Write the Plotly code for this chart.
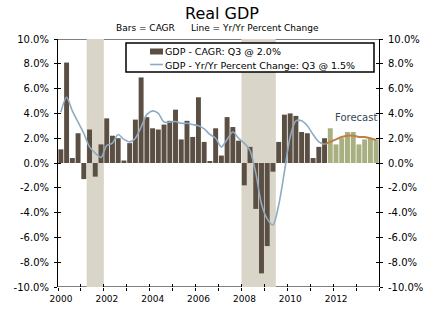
import numpy as np
import plotly.graph_objects as go

# ---- data -------------------------------------------------------------
years = list(range(2000, 2015))
year_labels = [str(y) if (y % 2 == 0 and y < 2014) else "" for y in years]

y_ticks = list(range(-10, 11, 2))
y_labels = [f"{v:.1f}%" for v in y_ticks]

# GDP, compound annual growth rate, 2000Q1 .. 2011Q3
actual_cagr = [
    1.1, 8.1, 0.4, 2.4,
    -1.3, 2.7, -1.1, 1.5,
    3.6, 2.2, 2.0, 0.2,
    1.6, 3.5, 6.9, 3.7,
    2.8, 2.7, 3.1, 3.4,
    4.3, 1.9, 3.4, 2.1,
    5.3, 1.7, 0.1, 2.8,
    0.6, 3.7, 2.9, 1.8,
    -1.8, 1.3, -3.7, -8.9,
    -6.7, -0.7, 1.7, 3.9,
    4.0, 3.8, 2.5, 2.4,
    0.4, 1.3, 2.0,
]
# forecast CAGR, 2011Q4 .. 2013Q4
forecast_cagr = [2.8, 1.5, 2.0, 2.5, 2.5, 1.5, 1.9, 2.0, 1.9]

# GDP, year-over-year percent change, 2000Q1 .. 2011Q3
actual_yoy = [
    4.1, 5.3, 4.2, 3.3,
    2.4, 1.3, 0.8, 0.45,
    1.4, 1.6, 2.3, 1.9,
    1.7, 2.0, 2.9, 3.9,
    4.2, 4.0, 3.3, 3.3,
    3.35, 3.2, 3.2, 3.1,
    3.0, 2.75, 2.3, 2.0,
    1.3, 1.9, 2.5, 2.0,
    1.6, 1.0, -0.8, -3.3,
    -4.5, -5.0, -3.4, -0.7,
    2.1, 3.4, 3.4, 3.0,
    2.3, 1.7, 1.5,
]
# forecast yr/yr, 2011Q3 .. 2013Q4 (joins the actual line)
forecast_yoy = [1.5, 1.7, 1.9, 2.1, 2.2, 2.2, 2.1, 2.1, 2.0, 1.85]

recessions = [(2001.25, 2002.0), (2008.0, 2009.5)]

# ---- geometry ---------------------------------------------------------
W, H = 441, 322
L, R, T, B = 58, 379, 39, 287


def px(x):
    return (x - L) / (R - L)


def py(y):
    return (B - y) / (B - T)


FONT = "DejaVu Sans"
BAR = "#5b4e43"
FC_BAR = "#a8af80"
SHADE = "#d9d5c8"
BLUE = "#8faac3"
ORANGE = "#bf7f45"

n_act = len(actual_cagr)
x_act = 2000 + (np.arange(n_act) + 0.5) / 4
x_fc = 2000 + (np.arange(n_act, n_act + len(forecast_cagr)) + 0.5) / 4
x_fc_line = np.concatenate([[x_act[-1]], x_fc])

fig = go.Figure()
fig.add_trace(go.Bar(x=x_act, y=actual_cagr, width=0.215, marker_color=BAR,
                     marker_line_width=0, showlegend=False))
fig.add_trace(go.Bar(x=x_fc, y=forecast_cagr, width=0.215, marker_color=FC_BAR,
                     marker_line_width=0, showlegend=False))
fig.add_trace(go.Scatter(x=x_act, y=actual_yoy, mode="lines",
                         line=dict(color=BLUE, width=1.6, shape="spline", smoothing=0.8),
                         showlegend=False))
fig.add_trace(go.Scatter(x=x_fc_line, y=forecast_yoy, mode="lines",
                         line=dict(color=ORANGE, width=2, shape="spline", smoothing=0.8),
                         showlegend=False))

# empty traces so the mirrored / cross-tick axes get drawn
for xa, ya in (("x2", "y"), ("x", "y2"), ("x", "y3"), ("x", "y4")):
    fig.add_trace(go.Scatter(x=[None], y=[None], xaxis=xa, yaxis=ya, mode="markers",
                             showlegend=False, hoverinfo="skip"))

shapes = []
# frame lines at the top and bottom, drawn under the recession shading
for yv in (10, -10):
    shapes.append(dict(type="line", xref="x", yref="y", x0=2000, x1=2014, y0=yv, y1=yv,
                       line=dict(color="black", width=1), layer="below"))
for a, b in recessions:
    shapes.append(dict(type="rect", xref="x", yref="y", x0=a, x1=b, y0=-10, y1=10,
                       fillcolor=SHADE, line_width=0, layer="below"))

# legend box
shapes.append(dict(type="rect", xref="paper", yref="paper",
                   x0=px(126), x1=px(374), y0=py(72), y1=py(43),
                   fillcolor="white", line=dict(color="black", width=1.5), layer="above"))
shapes.append(dict(type="rect", xref="paper", yref="paper",
                   x0=px(150), x1=px(163), y0=py(54.5), y1=py(48.5),
                   fillcolor=BAR, line_width=0, layer="above"))
shapes.append(dict(type="line", xref="paper", yref="paper",
                   x0=px(150), x1=px(163), y0=py(64.5), y1=py(64.5),
                   line=dict(color=BLUE, width=1.6), layer="above"))

annotations = [
    dict(text="Real GDP", xref="paper", yref="paper", x=px(222), y=py(13),
         showarrow=False, font=dict(family=FONT, size=16, color="black"),
         xanchor="center", yanchor="middle"),
    dict(text="Bars = CAGR", xref="paper", yref="paper", x=px(145), y=py(28),
         showarrow=False, font=dict(family=FONT, size=9, color="black"),
         xanchor="center", yanchor="middle"),
    dict(text="Line = Yr/Yr Percent Change", xref="paper", yref="paper", x=px(254.5), y=py(28),
         showarrow=False, font=dict(family=FONT, size=9, color="black"),
         xanchor="center", yanchor="middle"),
    dict(text="GDP - CAGR: Q3 @ 2.0%", xref="paper", yref="paper", x=px(163), y=py(51.5),
         showarrow=False, font=dict(family=FONT, size=9.5, color="black"),
         xanchor="left", yanchor="middle"),
    dict(text="GDP - Yr/Yr Percent Change: Q3 @ 1.5%", xref="paper", yref="paper",
         x=px(163), y=py(65), showarrow=False,
         font=dict(family=FONT, size=9.5, color="black"),
         xanchor="left", yanchor="middle"),
    dict(text="Forecast", xref="paper", yref="paper", x=px(356), y=py(117),
         showarrow=False, font=dict(family=FONT, size=10, color="#3a4656"),
         xanchor="center", yanchor="middle"),
]

yfmt = dict(range=[-10, 10], tickvals=y_ticks, ticktext=y_labels,
            showgrid=False, zeroline=False,
            tickfont=dict(family=FONT, size=10, color="black"),
            tickcolor="black", tickwidth=1, ticks="outside", ticklen=3,
            showline=True, linecolor="black", linewidth=1, ticklabelstandoff=3)
ycross = dict(range=[-10, 10], tickvals=y_ticks, overlaying="y", anchor="x",
              ticks="inside", ticklen=3, tickcolor="black", tickwidth=1,
              showticklabels=False, showgrid=False, zeroline=False, showline=False)

fig.update_layout(
    width=W, height=H,
    margin=dict(l=L, r=W - R, t=T, b=H - B, pad=0),
    paper_bgcolor="white", plot_bgcolor="white",
    barmode="overlay", showlegend=False,
    shapes=shapes, annotations=annotations,
    font=dict(family=FONT, color="black"),
    xaxis=dict(range=[2000, 2014], tickvals=years, ticktext=year_labels,
               ticks="outside", ticklen=3, tickcolor="black", tickwidth=1,
               showgrid=False, zeroline=False, showline=False,
               tickfont=dict(family=FONT, size=9, color="black"),
               ticklabelshift=3),
    xaxis2=dict(range=[2000, 2014], overlaying="x", anchor="y", side="bottom",
                tickvals=years, ticks="inside", ticklen=3, tickcolor="black", tickwidth=1,
                showticklabels=False, showgrid=False, zeroline=False, showline=False),
    yaxis=dict(**yfmt),
    yaxis2=dict(**yfmt, overlaying="y", side="right", anchor="x"),
    yaxis3=dict(**ycross, side="left"),
    yaxis4=dict(**ycross, side="right"),
)

fig.write_html("out.html")
